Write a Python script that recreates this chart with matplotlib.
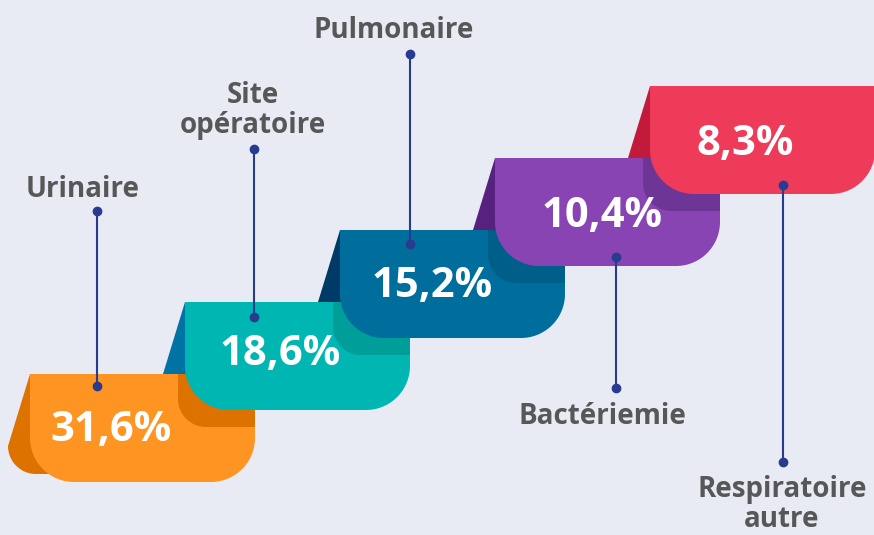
import numpy as np
import matplotlib
matplotlib.use("Agg")
import matplotlib.pyplot as plt
from matplotlib.patches import Polygon

# ---------------- data ----------------
categories = ["Urinaire", "Site\nopératoire", "Pulmonaire", "Bactériemie", "Respiratoire\nautre"]
values = [31.6, 18.6, 15.2, 10.4, 8.3]

main_colors = ["#FE9422", "#00B6B2", "#006E9C", "#8844B2", "#EF3B5A"]
shadow_colors = ["#DE7200", "#009E99", "#005F88", "#6D3596", None]
flap_colors = ["#DE7200", "#0073A5", "#003B68", "#56217F", "#C21A3B"]

# ---------------- layout (pixel space) ----------------
W, H = 874, 535
BG = "#E8EBF3"
LINE_C = "#283C8F"
LABEL_C = "#575757"

x0, y0 = 30, 374          # first block top-left
dx, dy = 155, -72         # step between blocks
bw, bh = 225, 108         # block size
rad = 44                  # bottom corner radius
flap_dx, flap_dy = -22, 72

text_dx = [81, 95, 92, 107, 95]
text_dy = [56, 53, 57, 58, 59]

# leader lines: x, top dot y, bottom dot y ; label center x, first baseline y
lead_x = [97, 254, 410, 616, 783]
lead_y1 = [211, 149, 54, 257, 185]
lead_y2 = [386, 317, 244, 388, 462]
lab_x = [83, 253, 394, 602, 782]
lab_base = [197, 103, 38, 424, 497]

fig = plt.figure(figsize=(W / 100, H / 100), dpi=100)
fig.patch.set_facecolor(BG)
ax = fig.add_axes([0, 0, 1, 1])
ax.set_xlim(0, W)
ax.set_ylim(H, 0)
ax.axis("off")
ax.set_facecolor(BG)


def arc(cx, cy, r, a0, a1, n=30):
    t = np.radians(np.linspace(a0, a1, n))
    return np.column_stack([cx + r * np.cos(t), cy + r * np.sin(t)])


def block_shape(left, top, w, h, r):
    right, bottom = left + w, top + h
    pts = [(left, top), (right, top), (right, bottom - r)]
    pts += list(arc(right - r, bottom - r, r, 0, 90))
    pts += [(left + r, bottom)]
    pts += list(arc(left + r, bottom - r, r, 90, 180))
    return np.array(pts)


def shadow_shape(left, top, right, h, r):
    bottom = top + h
    pts = [(left, top), (right, top), (right, bottom), (left + r, bottom)]
    pts += list(arc(left + r, bottom - r, r, 90, 180))
    return np.array(pts)


n = len(values)
lefts = [x0 + dx * i for i in range(n)]
tops = [y0 + dy * i for i in range(n)]

# draw from bottom block (back) to top block (front)
for i in range(n):
    L, T = lefts[i], tops[i]
    z = 2 + i * 4
    # flap (side face)
    if i == 0:
        fr = 28
        fp = [(L, T), (L + flap_dx, T + flap_dy)]
        fp += list(arc(L + flap_dx + fr, T + flap_dy, fr, 180, 90))
        fp += [(L + 40, T + flap_dy + fr), (L + 40, T)]
        fp = np.array(fp)
    else:
        fp = np.array([(L, T), (L + flap_dx, T + flap_dy), (L + 10, T + flap_dy), (L + 10, T)])
    ax.add_patch(Polygon(fp, closed=True, facecolor=flap_colors[i], edgecolor="none", zorder=z))
    # main block
    ax.add_patch(Polygon(block_shape(L, T, bw, bh, rad), closed=True,
                         facecolor=main_colors[i], edgecolor="none", zorder=z + 1))
    # shadow cast by the next block
    if shadow_colors[i] is not None:
        sl = lefts[i + 1] - 7
        ax.add_patch(Polygon(shadow_shape(sl, T, L + bw, 53, 28), closed=True,
                             facecolor=shadow_colors[i], edgecolor="none", zorder=z + 2))
    # value text
    ax.text(L + text_dx[i], T + text_dy[i], f"{values[i]:.1f}".replace(".", ",") + "%",
            ha="center", va="center", color="white", fontsize=30, fontweight="bold",
            family=["Open Sans", "DejaVu Sans"], zorder=z + 3)

# leader lines and labels
for i in range(n):
    ax.plot([lead_x[i], lead_x[i]], [lead_y1[i], lead_y2[i]], color=LINE_C, lw=1.5,
            solid_capstyle="butt", zorder=40)
    ax.plot([lead_x[i], lead_x[i]], [lead_y1[i], lead_y2[i]], linestyle="none", marker="o",
            markersize=6, color=LINE_C, zorder=41)
    for k, line in enumerate(categories[i].split("\n")):
        ax.text(lab_x[i], lab_base[i] + 30 * k, line, ha="center", va="baseline",
                color=LABEL_C, fontsize=20, fontweight="bold",
                family=["Open Sans", "DejaVu Sans"], zorder=42)

fig.savefig("out.png", dpi=100, facecolor=BG)
